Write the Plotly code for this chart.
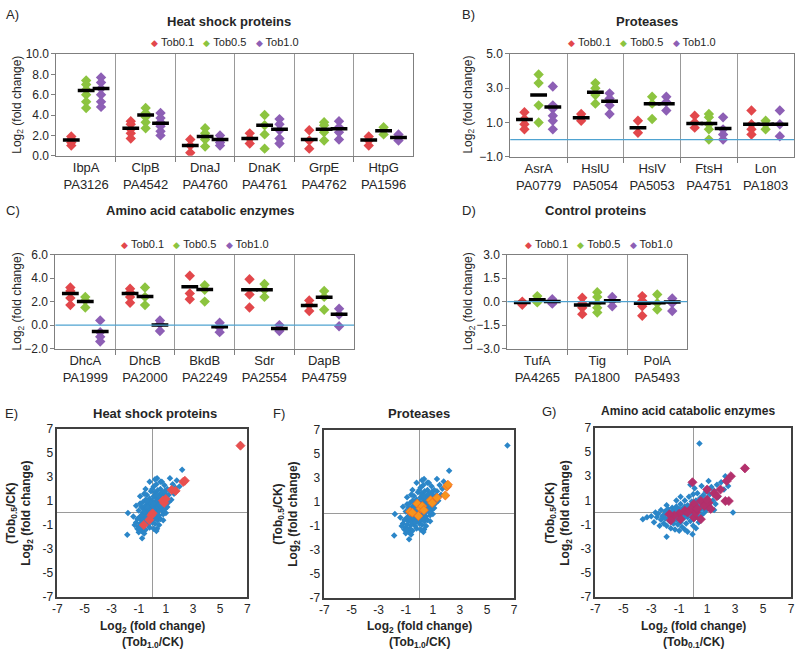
import plotly.graph_objects as go

# ---------------- DATA ----------------
SERIES = ["Tob0.1", "Tob0.5", "Tob1.0"]

# Panel A: Heat shock proteins
A_genes = ["IbpA", "ClpB", "DnaJ", "DnaK", "GrpE", "HtpG"]
A_ids = ["PA3126", "PA4542", "PA4760", "PA4761", "PA4762", "PA1596"]
A_tob01 = [[1.9, 1.6, 1.3, 1.0], [3.4, 3.1, 2.6, 2.2, 1.7], [1.6, 1.0, 0.3], [2.2, 1.7, 1.2], [2.5, 1.5, 0.7], [1.9, 1.5, 1.0]]
A_tob05 = [[7.4, 7.0, 6.5, 6.0, 5.3, 4.7], [4.7, 4.2, 3.8, 3.3, 2.7], [2.7, 2.2, 1.6, 0.9], [4.0, 3.0, 2.1, 0.7], [3.3, 3.0, 2.3, 1.5], [2.8, 2.5, 2.1]]
A_tob10 = [[7.7, 7.2, 6.6, 6.0, 5.3, 4.8], [4.2, 3.7, 3.3, 2.9, 2.4, 2.0], [2.0, 1.6, 1.3, 1.0], [3.6, 3.1, 2.5, 1.7, 1.2], [3.4, 2.8, 2.3, 1.6], [2.1, 1.8, 1.5]]
A_mean01 = [1.55, 2.7, 1.0, 1.7, 1.6, 1.55]
A_mean05 = [6.4, 4.0, 1.9, 3.0, 2.6, 2.45]
A_mean10 = [6.6, 3.2, 1.6, 2.6, 2.65, 1.8]

# Panel B: Proteases
B_genes = ["AsrA", "HslU", "HslV", "FtsH", "Lon"]
B_ids = ["PA0779", "PA5054", "PA5053", "PA4751", "PA1803"]
B_tob01 = [[1.6, 1.2, 0.9, 0.6], [1.5, 1.3, 1.1], [1.1, 0.4], [1.4, 1.0, 0.7], [1.7, 0.9, 0.6, 0.3]]
B_tob05 = [[3.8, 3.3, 2.0, 1.0], [3.3, 3.0, 2.6, 2.1], [2.5, 2.1, 1.2], [1.5, 1.3, 0.9, 0.6, 0.0], [1.1, 0.9, 0.6]]
B_tob10 = [[3.1, 2.0, 1.8, 1.4, 1.1, 0.6], [2.7, 2.4, 2.0, 1.5], [2.5, 2.2, 1.7], [1.3, 0.6, 0.3, 0.0], [1.7, 0.9, 0.2]]
B_mean01 = [1.17, 1.27, 0.7, 0.94, 0.9]
B_mean05 = [2.6, 2.77, 2.1, 0.94, 0.9]
B_mean10 = [1.9, 2.24, 2.1, 0.65, 0.9]

# Panel C: Amino acid catabolic enzymes
C_genes = ["DhcA", "DhcB", "BkdB", "Sdr", "DapB"]
C_ids = ["PA1999", "PA2000", "PA2249", "PA2554", "PA4759"]
C_tob01 = [[3.2, 2.9, 2.3, 1.7], [3.1, 2.8, 2.4, 1.9], [4.2, 2.7, 2.2], [3.9, 2.6, 1.5], [2.1, 1.7, 1.2]]
C_tob05 = [[2.4, 2.1, 1.5], [3.2, 2.4, 1.7], [3.4, 3.0, 2.0], [3.5, 3.0, 2.4], [2.9, 2.4, 1.3]]
C_tob10 = [[0.4, -0.6, -1.0, -1.4], [0.4, 0.1, -0.5], [0.2, -0.2, -0.6], [0.0, -0.3, -0.5], [1.4, 0.9, -0.1]]
C_mean01 = [2.7, 2.7, 3.26, 3.0, 1.67]
C_mean05 = [2.0, 2.43, 3.04, 3.0, 2.37]
C_mean10 = [-0.55, 0.0, -0.15, -0.3, 0.92]

# Panel D: Control proteins
D_genes = ["TufA", "Tig", "PolA"]
D_ids = ["PA4265", "PA1800", "PA5493"]
D_tob01 = [[0.0, -0.1, -0.2], [0.25, -0.1, -0.4, -0.8], [0.35, 0.05, -0.3, -0.9]]
D_tob05 = [[0.35, 0.15, -0.05], [0.6, 0.3, -0.1, -0.4, -0.7], [0.45, -0.1, -0.5]]
D_tob10 = [[0.15, 0.0, -0.13], [0.3, 0.05, -0.3], [0.2, -0.1, -0.6]]
D_mean01 = [-0.05, -0.21, -0.1]
D_mean05 = [0.12, -0.07, -0.07]
D_mean10 = [0.0, 0.06, -0.03]

# Panels E/F: all proteins, x = Tob1.0/CK, y = Tob0.5/CK
EF_all_x = [-1.8, -1.85, -0.75, 2.2, 0.35, -0.9, 0.35, 0.6, 6.5,
            -1.2, -1.1, -1.0, -1.0, -0.9, -0.9, -0.8, -0.8, -0.7, -0.7, -0.7, -0.6, -0.6, -0.6, -0.5, -0.5,
            -0.5, -0.5, -0.4, -0.4, -0.4, -0.4, -0.3, -0.3, -0.3, -0.3, -0.2, -0.2, -0.2, -0.2, -0.1, -0.1,
            -0.1, -0.1, 0.0, 0.0, 0.0, 0.0, 0.1, 0.1, 0.1, 0.1, 0.2, 0.2, 0.2, 0.2, 0.3, 0.3, 0.3, 0.3,
            0.4, 0.4, 0.4, 0.4, 0.5, 0.5, 0.5, 0.5, 0.6, 0.6, 0.6, 0.6, 0.7, 0.7, 0.7, 0.8, 0.8, 0.8, 0.9,
            0.9, 0.9, 1.0, 1.0, 1.1, 1.1, 1.2, 1.2, 1.3, 1.4, 1.5, 1.6, 1.7, 1.8, 2.0, -1.3, -1.2, -1.1,
            -0.9, -0.8, -0.6, -0.5, -0.2, 0.0, 0.2, 0.7, 1.3, 0.5, 0.8, 1.0, -1.4, -0.6, 0.1, -1.0, 0.3,
            -0.7, -0.6, -0.5, -0.4, -0.3, -0.2, -0.1, 0.0, 0.1, 0.2, 0.3, 0.4, 0.5, 0.6, -0.8, -0.9, 0.2,
            0.0, -0.3, 0.7, 1.1, 0.9, -0.2, -0.4, 0.3, 0.1]
EF_all_y = [0.0, -1.8, -2.1, 3.6, -1.3, 1.4, 2.9, 2.6, 5.7,
            -0.8, -0.5, -1.1, 0.2, -0.3, -0.9, 0.5, -0.6, -1.2, 0.0, 0.9, -0.4, 0.3, -0.9, 1.1, -0.2,
            0.6, -1.4, 0.0, -0.7, 0.4, 1.5, -0.3, 0.8, -1.0, 0.2, -0.6, 0.5, 1.2, -1.2, 0.0, 0.7,
            -0.4, 1.8, 0.3, -0.8, 1.0, -0.2, 0.5, -0.5, 1.4, 2.2, 0.0, 0.9, -0.9, 1.7, 0.4, -0.3, 1.2, 2.4,
            0.7, -0.6, 0.1, 1.9, 1.0, 0.3, -0.2, 1.5, 0.6, 1.3, -0.5, 2.0, 0.9, 0.2, 1.7, 0.5, 1.4, -0.1, 1.0,
            2.3, 0.3, 1.6, 0.7, 1.2, 2.0, 0.9, 1.5, 1.9, 1.1, 2.4, 1.6, 2.1, 2.7, 2.2, -1.0, 0.6, -1.3,
            0.8, -1.5, 1.6, 2.0, 2.6, 2.0, 2.8, 2.6, 2.9, -1.0, -0.6, 0.0, -0.3, -1.7, -1.3, -1.6, -1.5,
            -0.5, 0.1, -0.7, -0.4, 0.5, -0.1, 0.3, 0.6, 0.1, 0.4, 0.8, 0.5, 0.7, 1.0, -0.2, -1.3, -0.4,
            -0.5, -0.7, 1.2, 0.5, 1.8, 0.9, 1.0, 1.5, 0.8]

# Panel E highlight: heat shock proteins
E_hsp_x = [-0.63, -0.22, -0.07, 0.02, 0.78, 0.87, 0.99, 1.43, 1.72, 2.28, 2.4, 6.5]
E_hsp_y = [-1.0, -0.57, -0.19, -0.03, 1.03, 0.84, 1.16, 1.92, 1.84, 2.59, 2.68, 5.6]

# Panel F highlight: proteases
F_prot_x = [-0.68, -0.51, -0.15, -0.07, 0.1, 0.22, 0.34, 0.83, 0.95, 1.31, 1.92, 2.04, 2.11]
F_prot_y = [0.19, 0.11, 0.86, -0.16, 0.46, 0.65, 0.32, 1.14, 0.92, 1.35, 1.54, 2.27, 2.43]

# Panel G: all proteins, x = Tob0.1/CK, y = Tob0.5/CK
G_all_x = [-3.6, -1.9, -0.05, 2.85, 0.45, -3.0, -2.7, -2.6, -2.5, -2.3, -2.3, -2.2, -2.1, -2.0, -2.0,
           -1.9, -1.8, -1.8, -1.7, -1.6, -1.6, -1.5, -1.5, -1.4, -1.4, -1.3, -1.3, -1.2, -1.2, -1.1, -1.1,
           -1.0, -1.0, -0.9, -0.9, -0.8, -0.8, -0.7, -0.7, -0.6, -0.6, -0.5, -0.5, -0.4, -0.4, -0.3, -0.3,
           -0.2, -0.2, -0.1, -0.1, 0.0, 0.0, 0.0, 0.1, 0.1, 0.2, 0.2, 0.3, 0.3, 0.4, 0.4, 0.5, 0.5, 0.6,
           0.6, 0.7, 0.7, 0.8, 0.8, 0.9, 0.9, 1.0, 1.0, 1.1, 1.2, 1.2, 1.3, 1.4, 1.5, 1.6, 1.7, 1.8, 2.0,
           2.2, 2.3, 2.5, -1.0, -0.6, 0.2, -2.4, -1.9, -0.9, 0.1, 0.6, -0.2, 1.1, -2.8, -3.3, -1.2, -0.4,
           1.5, 0.3, -0.6, -1.7, -2.1, -1.3, -0.8, -0.2, 0.4, 0.9, -1.5, -1.1]
G_all_y = [-0.55, -2.0, -1.8, 0.0, 5.7, -0.3, 0.0, -0.4, -0.1, -0.6, 0.2, -0.3, -0.9, 0.1, -0.5,
           -1.1, -0.2, 0.3, -0.7, -1.3, 0.0, -0.4, 0.4, -0.9, 0.1, -0.2, -1.4, 0.5, -0.6, 0.0, -1.0,
           0.3, -0.4, -0.8, 0.7, 0.0, -1.2, 0.4, -0.5, 1.0, -0.2, 0.2, -0.9, 0.6, -0.4, 1.3, 0.0,
           -0.7, 0.4, 0.9, -0.2, 0.2, -1.1, 1.5, 0.6, -0.5, 1.0, 0.1, -0.3, 1.6, 0.5, -0.8, 1.2, 0.2, 0.8,
           -0.2, 1.4, 0.4, 1.0, 0.0, 1.7, 0.6, 1.2, 0.3, 0.8, 1.5, 0.5, 2.1, 1.0, 1.8, 0.7, 2.3, 1.3, 2.5,
           1.9, 3.0, 2.2, -1.5, -1.4, -1.3, -1.1, 0.6, 1.3, 2.0, 2.2, 2.3, 2.6, -0.8, -0.4, 1.0, -1.6,
           0.2, 0.9, 0.5, -0.4, -0.2, 0.2, -0.3, 0.1, 0.3, 0.2, -0.8, -0.3]

# Panel G highlight: amino acid catabolic enzymes
G_aa_x = [3.7, -0.05, 2.7, 2.4, 1.95, 1.5, 1.7, 2.3, 2.55, 1.0, 0.55, 0.05, -0.15, -0.6, -1.0, -1.35,
          -1.7, -1.6, -0.9, 0.05, 0.2, 0.8, 1.1, 0.3, -0.4, 0.55, 1.0, 1.25]
G_aa_y = [3.65, 2.5, 3.0, 2.6, 1.9, 1.6, 1.35, 0.95, 0.95, 1.9, 0.95, 0.7, 0.3, 0.15, -0.1, -0.25,
          -0.15, -0.65, -0.55, -0.4, 0.0, 0.55, 0.8, 0.3, 0.0, -0.55, 1.05, 0.3]

# ---------------- STYLE ----------------
W, H = 800, 658
COLORS = ["#e2474b", "#8cc43f", "#8d5fb5"]
OFFSETS = [-0.25, 0.0, 0.25]
FONT = "Liberation Sans, Arial, sans-serif"
TXT = "#262626"

def px_x(p):
    return p / W

def px_y(p):
    return 1 - p / H

fig = go.Figure()
layout = dict(width=W, height=H, margin=dict(l=0, r=0, t=0, b=0),
              plot_bgcolor="white", paper_bgcolor="white", showlegend=False,
              font=dict(family=FONT, color=TXT, size=12))
annotations = []
shapes = []


def ann(x, y, text, size=12, bold=False, angle=0, xanchor="center"):
    if bold:
        text = "<b>" + text + "</b>"
    annotations.append(dict(x=px_x(x), y=px_y(y), xref="paper", yref="paper", text=text,
                            showarrow=False, textangle=angle, xanchor=xanchor, yanchor="middle",
                            font=dict(family=FONT, size=size, color=TXT)))


def legend_ann(x, y):
    parts = []
    for c, s in zip(COLORS, SERIES):
        parts.append("<span style='color:%s;font-size:9px'>\u25C6</span>\u00a0%s" % (c, s))
    annotations.append(dict(x=px_x(x), y=px_y(y), xref="paper", yref="paper",
                            text="\u00a0\u00a0\u00a0".join(parts), showarrow=False,
                            xanchor="center", yanchor="middle",
                            font=dict(family=FONT, size=11, color=TXT)))


def cat_panel(idx, genes, ids, vals, means, yrange, tick0, dtick, xpx, ypx, zero_line):
    xa = "x" if idx == 1 else "x%d" % idx
    ya = "y" if idx == 1 else "y%d" % idx
    n = len(genes)
    for s in range(3):
        xs, ys = [], []
        for i, cat in enumerate(vals[s]):
            for v in cat:
                xs.append(i + OFFSETS[s])
                ys.append(v)
        fig.add_trace(go.Scatter(x=xs, y=ys, mode="markers", name=SERIES[s], xaxis=xa, yaxis=ya,
                                 marker=dict(symbol="diamond", size=8, color=COLORS[s])))
    for s in range(3):
        fig.add_trace(go.Scatter(x=[i + OFFSETS[s] for i in range(n)], y=means[s], mode="markers",
                                 xaxis=xa, yaxis=ya,
                                 marker=dict(symbol="line-ew", size=12,
                                             line=dict(width=3.5, color="black"))))
    key = "" if idx == 1 else str(idx)
    layout["xaxis" + key] = dict(domain=[px_x(xpx[0]), px_x(xpx[1])], anchor=ya,
                                 range=[-0.5, n - 0.5], tickvals=list(range(n)),
                                 ticktext=["%s<br>%s" % (g, p) for g, p in zip(genes, ids)],
                                 showline=True, mirror=True, linecolor="#7f7f7f", linewidth=1,
                                 showgrid=False, zeroline=False, ticks="",
                                 tickfont=dict(size=13, family=FONT, color=TXT),
                                 minor=dict(tickvals=[i + 0.5 for i in range(n - 1)], ticks="outside",
                                            ticklen=5, tickcolor="#7f7f7f", showgrid=True,
                                            gridcolor="#999999", gridwidth=1))
    layout["yaxis" + key] = dict(domain=[px_y(ypx[1]), px_y(ypx[0])], anchor=xa,
                                 range=yrange, tick0=tick0, dtick=dtick, tickformat=".1f",
                                 showline=True, mirror=True, linecolor="#7f7f7f", linewidth=1,
                                 showgrid=False, zeroline=False, ticks="outside", ticklen=4,
                                 tickcolor="#7f7f7f", tickfont=dict(size=12, family=FONT, color=TXT))
    if zero_line:
        shapes.append(dict(type="line", xref=xa + " domain", x0=0, x1=1, yref=ya, y0=0, y1=0,
                           line=dict(color="#4fa3d1", width=1.3)))


def scatter_panel(idx, bx, by, hx, hy, hcolor, hline, xpx, ypx):
    xa = "x%d" % idx
    ya = "y%d" % idx
    fig.add_trace(go.Scatter(x=bx, y=by, mode="markers", xaxis=xa, yaxis=ya,
                             marker=dict(symbol="diamond", size=5, color="#2b86c8")))
    fig.add_trace(go.Scatter(x=hx, y=hy, mode="markers", xaxis=xa, yaxis=ya,
                             marker=dict(symbol="diamond", size=7, color=hcolor,
                                         line=dict(width=0.8, color=hline))))
    ticks = [-7, -5, -3, -1, 1, 3, 5, 7]
    common = dict(range=[-7, 7], tickvals=ticks, ticktext=[str(t) for t in ticks],
                  showline=True, mirror=True, linecolor="#404040", linewidth=1.5,
                  showgrid=False, zeroline=True, zerolinecolor="#9a9a9a", zerolinewidth=1.2,
                  ticks="", tickfont=dict(size=12, family=FONT, color=TXT))
    layout["xaxis%d" % idx] = dict(domain=[px_x(xpx[0]), px_x(xpx[1])], anchor=ya, **common)
    layout["yaxis%d" % idx] = dict(domain=[px_y(ypx[1]), px_y(ypx[0])], anchor=xa, **common)


# Panels A-D
cat_panel(1, A_genes, A_ids, [A_tob01, A_tob05, A_tob10], [A_mean01, A_mean05, A_mean10],
          [0, 10], 0, 2, (52, 413), (48, 152), False)
cat_panel(2, B_genes, B_ids, [B_tob01, B_tob05, B_tob10], [B_mean01, B_mean05, B_mean10],
          [-1, 5], -1, 2, (511, 798), (48, 153), True)
cat_panel(3, C_genes, C_ids, [C_tob01, C_tob05, C_tob10], [C_mean01, C_mean05, C_mean10],
          [-2, 6], -2, 2, (51, 353), (253, 349), True)
cat_panel(4, D_genes, D_ids, [D_tob01, D_tob05, D_tob10], [D_mean01, D_mean05, D_mean10],
          [-3, 3], -3, 1.5, (508, 690), (253, 349), True)

# Panels E-G
scatter_panel(5, EF_all_x, EF_all_y, E_hsp_x, E_hsp_y, "#e8504f", "#e8504f", (53, 245), (431, 603))
scatter_panel(6, EF_all_x, EF_all_y, F_prot_x, F_prot_y, "#f7941d", "#f26a21", (323, 515), (432, 604))
scatter_panel(7, G_all_x, G_all_y, G_aa_x, G_aa_y, "#b3306c", "#b3306c", (597, 795), (430, 603))

# Text
ann(8, 8, "A)", 13)
ann(469, 8, "B)", 13)
ann(8, 208, "C)", 13)
ann(469, 208, "D)", 13)
ann(7, 415, "E)", 13)
ann(277, 415, "F)", 13)
ann(550, 413, "G)", 13)

ann(227, 15, "Heat shock proteins", 13, True)
ann(649, 15, "Proteases", 13, True)
ann(198, 208, "Amino acid catabolic enzymes", 13, True)
ann(597, 208, "Control proteins", 13, True)
ann(152, 415, "Heat shock proteins", 13, True)
ann(419, 415, "Proteases", 13, True)
ann(691, 413, "Amino acid catabolic enzymes", 12, True)

legend_ann(222, 36)
legend_ann(644, 36)
legend_ann(192, 242)
legend_ann(601, 242)

ylab = "Log<sub>2</sub> (fold change)"
ann(13, 100, ylab, 12, angle=-90)
ann(469, 100, ylab, 12, angle=-90)
ann(13, 301, ylab, 12, angle=-90)
ann(469, 301, ylab, 12, angle=-90)

sy = "(Tob<sub>0.5</sub>/CK)<br>Log<sub>2</sub> (fold change)"
ann(14, 517, sy, 12, True, angle=-90)
ann(285, 518, sy, 12, True, angle=-90)
ann(559, 517, sy, 12, True, angle=-90)
ann(149, 641, "Log<sub>2</sub> (fold change)<br>(Tob<sub>1.0</sub>/CK)", 12, True)
ann(419, 641, "Log<sub>2</sub> (fold change)<br>(Tob<sub>1.0</sub>/CK)", 12, True)
ann(696, 641, "Log<sub>2</sub> (fold change)<br>(Tob<sub>0.1</sub>/CK)", 12, True)

layout["annotations"] = annotations
layout["shapes"] = shapes
fig.update_layout(**layout)
fig.write_html("out.html", config={"displayModeBar": False},
               post_script="document.body.style.margin='0';document.body.style.padding='0';document.body.style.overflow='hidden';")
